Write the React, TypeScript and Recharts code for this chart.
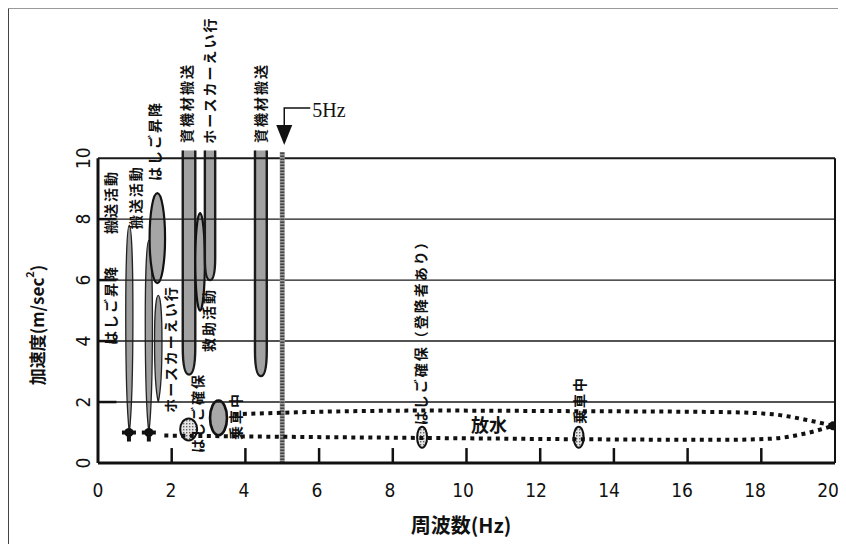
import React from 'react';
import {
  ComposedChart,
  XAxis,
  YAxis,
  Line,
  Scatter,
  ReferenceLine,
  ReferenceArea,
  ReferenceDot,
} from 'recharts';

// ---- data ----
const X_TICKS = [0, 2, 4, 6, 8, 10, 12, 14, 16, 18, 20];
const Y_TICKS = [0, 2, 4, 6, 8, 10];
const GRID_Y = [2, 4, 6, 8, 10];
const INNER_X_TICKS = [2, 4, 6, 8, 10, 12, 14, 16, 18];
const INNER_Y_TICKS = [2, 4, 6, 8];
const LIMIT_HZ = 5;

// vibration zones: frequency range (Hz) x acceleration range (m/sec2)
const ZONES = [
  { id: 'A', x1: 0.72, x2: 0.98, y1: 1.0, y2: 7.8, kind: 'drop' },
  { id: 'B', x1: 1.25, x2: 1.51, y1: 1.0, y2: 7.3, kind: 'drop' },
  { id: 'D', x1: 1.5, x2: 1.77, y1: 2.0, y2: 5.5, kind: 'drop' },
  { id: 'C', x1: 1.4, x2: 1.82, y1: 5.9, y2: 8.85, kind: 'ring' },
  { id: 'E', x1: 2.3, x2: 2.64, y1: 2.9, y2: 10.25, kind: 'bar' },
  { id: 'G', x1: 2.64, x2: 2.9, y1: 5.0, y2: 8.2, kind: 'ring' },
  { id: 'F', x1: 2.9, x2: 3.18, y1: 6.0, y2: 10.25, kind: 'bar' },
  { id: 'H', x1: 4.26, x2: 4.58, y1: 2.85, y2: 10.25, kind: 'bar' },
  { id: 'I', x1: 2.23, x2: 2.69, y1: 0.74, y2: 1.46, kind: 'dots' },
  { id: 'J', x1: 3.04, x2: 3.5, y1: 0.91, y2: 2.05, kind: 'oval' },
  { id: 'K', x1: 8.66, x2: 8.93, y1: 0.5, y2: 1.19, kind: 'dots' },
  { id: 'L', x1: 12.91, x2: 13.18, y1: 0.5, y2: 1.19, kind: 'dots' },
];

// 放水 envelope (dotted)
const UPPER = [
  { x: 3.7, y: 1.6 },
  { x: 6, y: 1.68 },
  { x: 9, y: 1.72 },
  { x: 13, y: 1.7 },
  { x: 17, y: 1.67 },
  { x: 18.3, y: 1.6 },
  { x: 19.2, y: 1.42 },
  { x: 19.95, y: 1.22 },
];
const LOWER = [
  { x: 1.8, y: 0.9 },
  { x: 5, y: 0.86 },
  { x: 9, y: 0.82 },
  { x: 13, y: 0.78 },
  { x: 17, y: 0.76 },
  { x: 18.3, y: 0.8 },
  { x: 19.2, y: 0.97 },
  { x: 19.95, y: 1.22 },
];
const END_POINT = [{ x: 19.95, y: 1.22 }];
const CROSSES = [
  { x: 0.84, y: 1.0 },
  { x: 1.38, y: 1.0 },
];

// labels: position (Hz, m/sec2), text, vertical?
const LABELS = [
  { x: 0.33, y: 5.18, text: 'はしご昇降', v: true },
  { x: 0.33, y: 8.56, text: '搬送活動', v: true },
  { x: 1.0, y: 8.72, text: '搬送活動', v: true },
  { x: 1.52, y: 10.56, text: 'はしご昇降', v: true },
  { x: 2.39, y: 11.81, text: '資機材搬送', v: true },
  { x: 3.01, y: 12.56, text: 'ホースカーえい行', v: true },
  { x: 4.4, y: 11.81, text: '資機材搬送', v: true },
  { x: 1.95, y: 3.74, text: 'ホースカーえい行', v: true },
  { x: 2.99, y: 4.69, text: '救助活動', v: true },
  { x: 2.69, y: 1.64, text: 'はしご確保', v: true },
  { x: 3.72, y: 1.54, text: '乗車中', v: true },
  { x: 8.74, y: 4.39, text: 'はしご確保（登降者あり）', v: true },
  { x: 13.05, y: 2.07, text: '乗車中', v: true },
  { x: 10.61, y: 1.28, text: '放水', v: false },
];

const ARROW_Y = 10.43;
const ARROW_TEXT = '5Hz';
const X_TITLE = '周波数(Hz)';
const Y_TITLE = '加速度(m/sec';

const JP = '"Noto Sans CJK JP", "Noto Sans", sans-serif';
const NUM = '"Liberation Sans Narrow", "DejaVu Sans Condensed", "Liberation Sans", sans-serif';

const zoneShape = (kind: string, idx: number) => (p: any) => {
  const { x, y, width: w, height: h } = p;
  if (w == null || h == null) return <g />;
  const cx = x + w / 2;
  const cy = y + h / 2;
  const bottom = y + h;
  if (kind === 'drop') {
    const d = `M${cx},${y} C${x + w},${y} ${x + w},${y + h * 0.8} ${cx},${bottom} C${x},${y + h * 0.8} ${x},${y} ${cx},${y} Z`;
    return <path d={d} fill="#9e9e9e" stroke="#222" strokeWidth={1.3} />;
  }
  if (kind === 'bar') {
    const r = w * 2.2;
    const fillD = `M${x},${y} L${x + w},${y} L${x + w},${bottom - r} Q${x + w},${bottom} ${cx},${bottom} Q${x},${bottom} ${x},${bottom - r} Z`;
    const edge = `M${x},${y} L${x},${bottom - r} Q${x},${bottom} ${cx},${bottom} Q${x + w},${bottom} ${x + w},${bottom - r} L${x + w},${y}`;
    return (
      <g>
        <path d={fillD} fill="#a2a2a2" />
        <path d={edge} fill="none" stroke="#1a1a1a" strokeWidth={2.4} />
      </g>
    );
  }
  if (kind === 'ring') {
    return <ellipse cx={cx} cy={cy} rx={w / 2} ry={h / 2} fill="#a6a6a6" stroke="#111" strokeWidth={2.2} />;
  }
  if (kind === 'oval') {
    return <ellipse cx={cx} cy={cy} rx={w / 2} ry={h / 2} fill="#a8a8a8" stroke="#111" strokeWidth={2.6} />;
  }
  const pid = `stip${idx}`;
  return (
    <g>
      <defs>
        <pattern id={pid} width="3" height="3" patternUnits="userSpaceOnUse">
          <rect width="3" height="3" fill="#e6e6e6" />
          <rect width="1.4" height="1.4" fill="#666" />
        </pattern>
      </defs>
      <ellipse cx={cx} cy={cy} rx={w / 2} ry={h / 2} fill={`url(#${pid})`} stroke="#111" strokeWidth={2} />
    </g>
  );
};

const labelShape = (text: string, vertical: boolean) => (p: any) => {
  const { cx, cy } = p;
  if (cx == null || cy == null) return <g />;
  if (!vertical) {
    return (
      <text x={cx} y={cy} textAnchor="middle" dominantBaseline="central" fontFamily={JP} fontSize={18} fontWeight={700} fill="#111">
        {text}
      </text>
    );
  }
  return (
    <text
      x={cx}
      y={cy}
      transform={`rotate(-90 ${cx} ${cy})`}
      textAnchor="middle"
      dominantBaseline="central"
      fontFamily={JP}
      fontSize={14}
      letterSpacing={2}
      fontWeight={700}
      fill="#111"
    >
      {text}
    </text>
  );
};

const arrowShape = (p: any) => {
  const { cx, cy } = p;
  if (cx == null || cy == null) return <g />;
  const ax = cx + 2;
  return (
    <g>
      <polygon points={`${ax - 8},${cy - 20} ${ax + 8},${cy - 20} ${ax},${cy}`} fill="#111" />
      <polyline points={`${ax},${cy - 20} ${ax},${cy - 37} ${ax + 26},${cy - 37}`} fill="none" stroke="#111" strokeWidth={1.5} />
      <text x={ax + 28} y={cy - 35} dominantBaseline="central" fontFamily='"Liberation Serif", "DejaVu Serif", serif' fontSize={20} fill="#111">
        {ARROW_TEXT}
      </text>
    </g>
  );
};

const crossShape = (p: any) => {
  const { cx, cy } = p;
  if (cx == null || cy == null) return <g />;
  return (
    <g fill="#111">
      <circle cx={cx} cy={cy} r={4.5} />
      <rect x={cx - 7} y={cy - 2} width={14} height={4} />
      <rect x={cx - 2} y={cy - 2} width={4} height={11} />
    </g>
  );
};

const endShape = (p: any) => {
  const { cx, cy } = p;
  if (cx == null || cy == null) return <g />;
  return <circle cx={cx} cy={cy} r={4.5} fill="#111" />;
};

const XTick = (p: any) => {
  const { x, y, payload } = p;
  const tx = x - 0.35 * Number(payload.value);
  return (
    <text x={tx} y={y + 27} textAnchor="middle" dominantBaseline="central" fontFamily={NUM} fontSize={19} fill="#111">
      {payload.value}
    </text>
  );
};

const YTick = (p: any) => {
  const { x, y, payload } = p;
  const tx = x - 15;
  return (
    <text
      x={tx}
      y={y}
      transform={`rotate(-90 ${tx} ${y})`}
      textAnchor="middle"
      dominantBaseline="central"
      fontFamily={NUM}
      fontSize={19}
      fill="#111"
    >
      {payload.value}
    </text>
  );
};

export default function App() {
  return (
    <div style={{ position: 'relative', width: 838, height: 536 }}>
      <div
        style={{
          position: 'absolute',
          left: -1,
          top: 0,
          width: 836,
          height: 536,
          borderLeft: '2px solid #444',
          borderTop: '1px solid #999',
          borderRight: '1px solid #ccc',
          boxSizing: 'border-box',
        }}
      />
      <div style={{ position: 'absolute', left: -8, top: -8, width: 846, height: 544, overflow: 'hidden', lineHeight: 0 }}>
        <ComposedChart width={846} height={544} margin={{ top: 149, right: 11, bottom: 51, left: 38 }}>
          <XAxis
            type="number"
            dataKey="x"
            domain={[0, 20]}
            ticks={X_TICKS}
            interval={0}
            height={30}
            tickSize={0}
            tickMargin={0}
            tickLine={false}
            axisLine={{ stroke: '#111', strokeWidth: 3 }}
            tick={<XTick />}
            allowDataOverflow
          />
          <YAxis
            type="number"
            dataKey="y"
            domain={[0, 10.3]}
            ticks={Y_TICKS}
            interval={0}
            width={60}
            tickSize={0}
            tickMargin={0}
            tickLine={false}
            axisLine={false}
            tick={<YTick />}
            allowDataOverflow
          />
          {GRID_Y.map((v) => (
            <ReferenceLine key={`g${v}`} y={v} stroke="#1a1a1a" strokeWidth={v === 10 ? 2 : 1.4} />
          ))}
          <ReferenceLine segment={[{ x: 0, y: 0 }, { x: 0, y: 10 }]} stroke="#111" strokeWidth={3} />
          <ReferenceLine segment={[{ x: 20, y: 0 }, { x: 20, y: 10 }]} stroke="#111" strokeWidth={2} />
          {INNER_X_TICKS.map((v) => (
            <ReferenceLine key={`tx${v}`} segment={[{ x: v, y: 0 }, { x: v, y: 0.49 }]} stroke="#111" strokeWidth={2.5} />
          ))}
          {INNER_Y_TICKS.map((v) => (
            <ReferenceLine key={`ty${v}`} segment={[{ x: 0, y: v }, { x: 0.5, y: v }]} stroke="#111" strokeWidth={2.5} />
          ))}
          <ReferenceLine segment={[{ x: LIMIT_HZ, y: 0 }, { x: LIMIT_HZ, y: 10.2 }]} stroke="#9a9a9a" strokeWidth={5} />
          <ReferenceLine
            segment={[{ x: LIMIT_HZ, y: 0 }, { x: LIMIT_HZ, y: 10.2 }]}
            stroke="#444"
            strokeWidth={4}
            strokeDasharray="1.5 1.5"
          />
          {ZONES.map((z, i) => (
            <ReferenceArea
              key={z.id}
              x1={z.x1}
              x2={z.x2}
              y1={z.y1}
              y2={z.y2}
              ifOverflow="visible"
              shape={zoneShape(z.kind, i)}
            />
          ))}
          <Line
            data={UPPER}
            dataKey="y"
            type="monotone"
            stroke="#111"
            strokeWidth={4}
            strokeDasharray="4 4.5"
            dot={false}
            activeDot={false}
            isAnimationActive={false}
          />
          <Line
            data={LOWER}
            dataKey="y"
            type="monotone"
            stroke="#111"
            strokeWidth={4}
            strokeDasharray="4 4.5"
            dot={false}
            activeDot={false}
            isAnimationActive={false}
          />
          <Scatter data={END_POINT} dataKey="y" shape={endShape} isAnimationActive={false} />
          <Scatter data={CROSSES} dataKey="y" shape={crossShape} isAnimationActive={false} />
          {LABELS.map((l, i) => (
            <ReferenceDot key={`l${i}`} x={l.x} y={l.y} ifOverflow="visible" shape={labelShape(l.text, l.v)} />
          ))}
          <ReferenceDot x={LIMIT_HZ} y={ARROW_Y} ifOverflow="visible" shape={arrowShape} />
          <text x={461} y={524} textAnchor="middle" dominantBaseline="central" fontFamily={JP} fontSize={20} fontWeight={700} fill="#111">
            {X_TITLE}
          </text>
          <text
            x={36}
            y={325}
            transform="rotate(-90 36 325)"
            textAnchor="middle"
            dominantBaseline="central"
            fontFamily={JP}
            fontSize={17}
            fontWeight={700}
            fill="#111"
          >
            {Y_TITLE}
            <tspan dy={-7} fontSize={11}>2</tspan>
            <tspan dy={7}>)</tspan>
          </text>
        </ComposedChart>
      </div>
    </div>
  );
}
